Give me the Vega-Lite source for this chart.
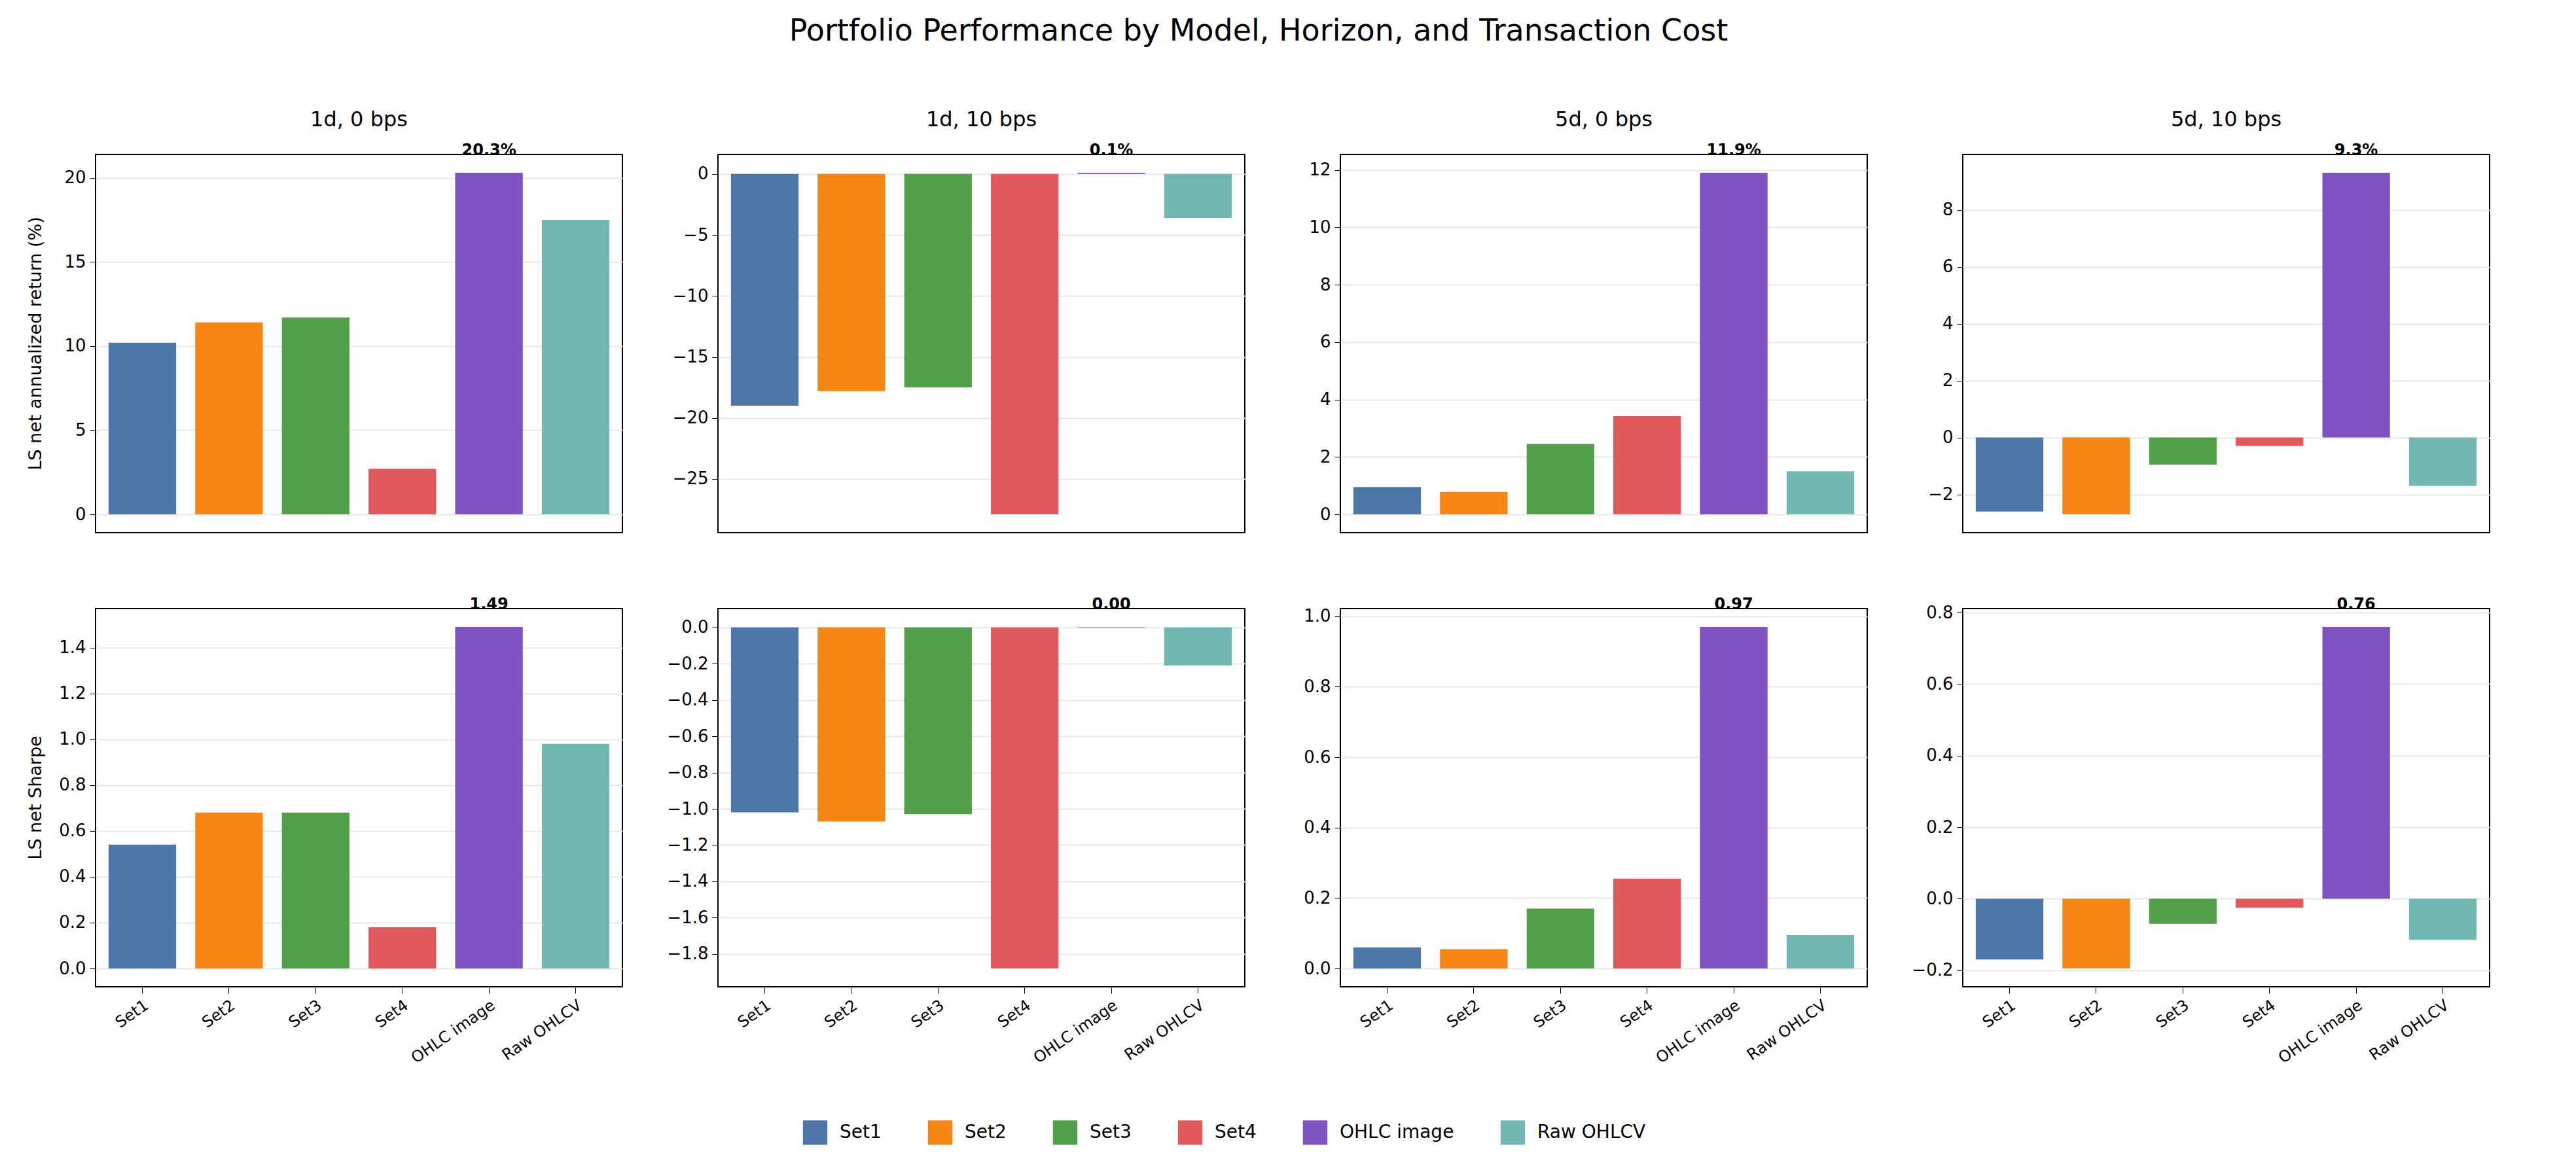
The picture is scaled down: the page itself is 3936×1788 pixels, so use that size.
{
  "$schema": "https://vega.github.io/schema/vega-lite/v6.json",
  "background": "white",
  "padding": {"left": 40, "top": 25, "right": 30, "bottom": 20},
  "title": {"text": "Portfolio Performance by Model, Horizon, and Transaction Cost", "fontSize": 46, "font": "DejaVu Sans", "fontWeight": "normal", "offset": 95, "anchor": "middle"},
  "config": {
    "font": "DejaVu Sans",
    "view": {"stroke": "black", "strokeWidth": 2},
    "axis": {"labelFontSize": 26, "labelColor": "black", "tickColor": "black", "tickSize": 9, "domain": false, "gridColor": "#e8e8e8", "gridWidth": 2, "labelPadding": 6},
    "header": {"labelFontSize": 32, "labelColor": "black"},
    "legend": {"labelFontSize": 28, "symbolType": "square", "symbolSize": 1400, "columnPadding": 70, "labelOffset": 18, "labelLimit": 400}
  },
  "data": {"values": [
    {"metric": "LS net annualized return (%)", "config": "1d, 0 bps", "model": "Set1", "value": 10.2, "label": ""},
    {"metric": "LS net annualized return (%)", "config": "1d, 0 bps", "model": "Set2", "value": 11.4, "label": ""},
    {"metric": "LS net annualized return (%)", "config": "1d, 0 bps", "model": "Set3", "value": 11.7, "label": ""},
    {"metric": "LS net annualized return (%)", "config": "1d, 0 bps", "model": "Set4", "value": 2.7, "label": ""},
    {"metric": "LS net annualized return (%)", "config": "1d, 0 bps", "model": "OHLC image", "value": 20.3, "label": "20.3%"},
    {"metric": "LS net annualized return (%)", "config": "1d, 0 bps", "model": "Raw OHLCV", "value": 17.5, "label": ""},
    {"metric": "LS net annualized return (%)", "config": "1d, 10 bps", "model": "Set1", "value": -19.0, "label": ""},
    {"metric": "LS net annualized return (%)", "config": "1d, 10 bps", "model": "Set2", "value": -17.8, "label": ""},
    {"metric": "LS net annualized return (%)", "config": "1d, 10 bps", "model": "Set3", "value": -17.5, "label": ""},
    {"metric": "LS net annualized return (%)", "config": "1d, 10 bps", "model": "Set4", "value": -27.9, "label": ""},
    {"metric": "LS net annualized return (%)", "config": "1d, 10 bps", "model": "OHLC image", "value": 0.1, "label": "0.1%"},
    {"metric": "LS net annualized return (%)", "config": "1d, 10 bps", "model": "Raw OHLCV", "value": -3.6, "label": ""},
    {"metric": "LS net annualized return (%)", "config": "5d, 0 bps", "model": "Set1", "value": 0.95, "label": ""},
    {"metric": "LS net annualized return (%)", "config": "5d, 0 bps", "model": "Set2", "value": 0.78, "label": ""},
    {"metric": "LS net annualized return (%)", "config": "5d, 0 bps", "model": "Set3", "value": 2.45, "label": ""},
    {"metric": "LS net annualized return (%)", "config": "5d, 0 bps", "model": "Set4", "value": 3.42, "label": ""},
    {"metric": "LS net annualized return (%)", "config": "5d, 0 bps", "model": "OHLC image", "value": 11.9, "label": "11.9%"},
    {"metric": "LS net annualized return (%)", "config": "5d, 0 bps", "model": "Raw OHLCV", "value": 1.5, "label": ""},
    {"metric": "LS net annualized return (%)", "config": "5d, 10 bps", "model": "Set1", "value": -2.6, "label": ""},
    {"metric": "LS net annualized return (%)", "config": "5d, 10 bps", "model": "Set2", "value": -2.7, "label": ""},
    {"metric": "LS net annualized return (%)", "config": "5d, 10 bps", "model": "Set3", "value": -0.95, "label": ""},
    {"metric": "LS net annualized return (%)", "config": "5d, 10 bps", "model": "Set4", "value": -0.3, "label": ""},
    {"metric": "LS net annualized return (%)", "config": "5d, 10 bps", "model": "OHLC image", "value": 9.3, "label": "9.3%"},
    {"metric": "LS net annualized return (%)", "config": "5d, 10 bps", "model": "Raw OHLCV", "value": -1.7, "label": ""},
    {"metric": "LS net Sharpe", "config": "1d, 0 bps", "model": "Set1", "value": 0.54, "label": ""},
    {"metric": "LS net Sharpe", "config": "1d, 0 bps", "model": "Set2", "value": 0.68, "label": ""},
    {"metric": "LS net Sharpe", "config": "1d, 0 bps", "model": "Set3", "value": 0.68, "label": ""},
    {"metric": "LS net Sharpe", "config": "1d, 0 bps", "model": "Set4", "value": 0.18, "label": ""},
    {"metric": "LS net Sharpe", "config": "1d, 0 bps", "model": "OHLC image", "value": 1.49, "label": "1.49"},
    {"metric": "LS net Sharpe", "config": "1d, 0 bps", "model": "Raw OHLCV", "value": 0.98, "label": ""},
    {"metric": "LS net Sharpe", "config": "1d, 10 bps", "model": "Set1", "value": -1.02, "label": ""},
    {"metric": "LS net Sharpe", "config": "1d, 10 bps", "model": "Set2", "value": -1.07, "label": ""},
    {"metric": "LS net Sharpe", "config": "1d, 10 bps", "model": "Set3", "value": -1.03, "label": ""},
    {"metric": "LS net Sharpe", "config": "1d, 10 bps", "model": "Set4", "value": -1.88, "label": ""},
    {"metric": "LS net Sharpe", "config": "1d, 10 bps", "model": "OHLC image", "value": 0.003, "label": "0.00"},
    {"metric": "LS net Sharpe", "config": "1d, 10 bps", "model": "Raw OHLCV", "value": -0.21, "label": ""},
    {"metric": "LS net Sharpe", "config": "5d, 0 bps", "model": "Set1", "value": 0.06, "label": ""},
    {"metric": "LS net Sharpe", "config": "5d, 0 bps", "model": "Set2", "value": 0.055, "label": ""},
    {"metric": "LS net Sharpe", "config": "5d, 0 bps", "model": "Set3", "value": 0.17, "label": ""},
    {"metric": "LS net Sharpe", "config": "5d, 0 bps", "model": "Set4", "value": 0.255, "label": ""},
    {"metric": "LS net Sharpe", "config": "5d, 0 bps", "model": "OHLC image", "value": 0.97, "label": "0.97"},
    {"metric": "LS net Sharpe", "config": "5d, 0 bps", "model": "Raw OHLCV", "value": 0.095, "label": ""},
    {"metric": "LS net Sharpe", "config": "5d, 10 bps", "model": "Set1", "value": -0.17, "label": ""},
    {"metric": "LS net Sharpe", "config": "5d, 10 bps", "model": "Set2", "value": -0.195, "label": ""},
    {"metric": "LS net Sharpe", "config": "5d, 10 bps", "model": "Set3", "value": -0.07, "label": ""},
    {"metric": "LS net Sharpe", "config": "5d, 10 bps", "model": "Set4", "value": -0.025, "label": ""},
    {"metric": "LS net Sharpe", "config": "5d, 10 bps", "model": "OHLC image", "value": 0.76, "label": "0.76"},
    {"metric": "LS net Sharpe", "config": "5d, 10 bps", "model": "Raw OHLCV", "value": -0.115, "label": ""}
  ]},
  "facet": {
    "row": {"field": "metric", "type": "nominal", "sort": ["LS net annualized return (%)", "LS net Sharpe"], "title": null,
      "header": {"labelAngle": -90, "labelOrient": "left", "labelFontSize": 27, "labelPadding": 6}},
    "column": {"field": "config", "type": "nominal", "title": null, "header": {"labelPadding": 16}}
  },
  "spacing": {"row": 95, "column": 65},
  "resolve": {"scale": {"y": "independent"}},
  "spec": {
    "width": 805,
    "height": 578,
    "encoding": {
      "x": {"field": "model", "type": "nominal", "sort": ["Set1", "Set2", "Set3", "Set4", "OHLC image", "Raw OHLCV"], "title": null,
        "scale": {"paddingInner": 0.22, "paddingOuter": 0.15},
        "axis": {"labelAngle": -35, "labelAlign": "right", "labelBaseline": "top", "labelFontSize": 24}}
    },
    "layer": [
      {
        "mark": {"type": "bar", "opacity": 0.92},
        "encoding": {
          "y": {"field": "value", "type": "quantitative", "title": null,
            "scale": {"nice": false, "padding": 28},
            "axis": {"tickCount": 7}},
          "color": {"field": "model", "type": "nominal", "title": null,
            "sort": ["Set1", "Set2", "Set3", "Set4", "OHLC image", "Raw OHLCV"],
            "scale": {"domain": ["Set1", "Set2", "Set3", "Set4", "OHLC image", "Raw OHLCV"],
              "range": ["#3d6ba1", "#f57c00", "#43973b", "#e14a4c", "#7544bd", "#66b2ab"]},
            "legend": {"orient": "none", "direction": "horizontal", "legendX": 1080, "legendY": 1475}}
        }
      },
      {
        "mark": {"type": "rule", "color": "black", "strokeWidth": 2.5},
        "encoding": {"y": {"datum": 0}}
      },
      {
        "mark": {"type": "text", "fontWeight": "bold", "fontSize": 24, "baseline": "bottom", "dy": -22, "clip": false},
        "encoding": {
          "y": {"field": "value", "type": "quantitative"},
          "text": {"field": "label"}
        }
      }
    ]
  }
}
